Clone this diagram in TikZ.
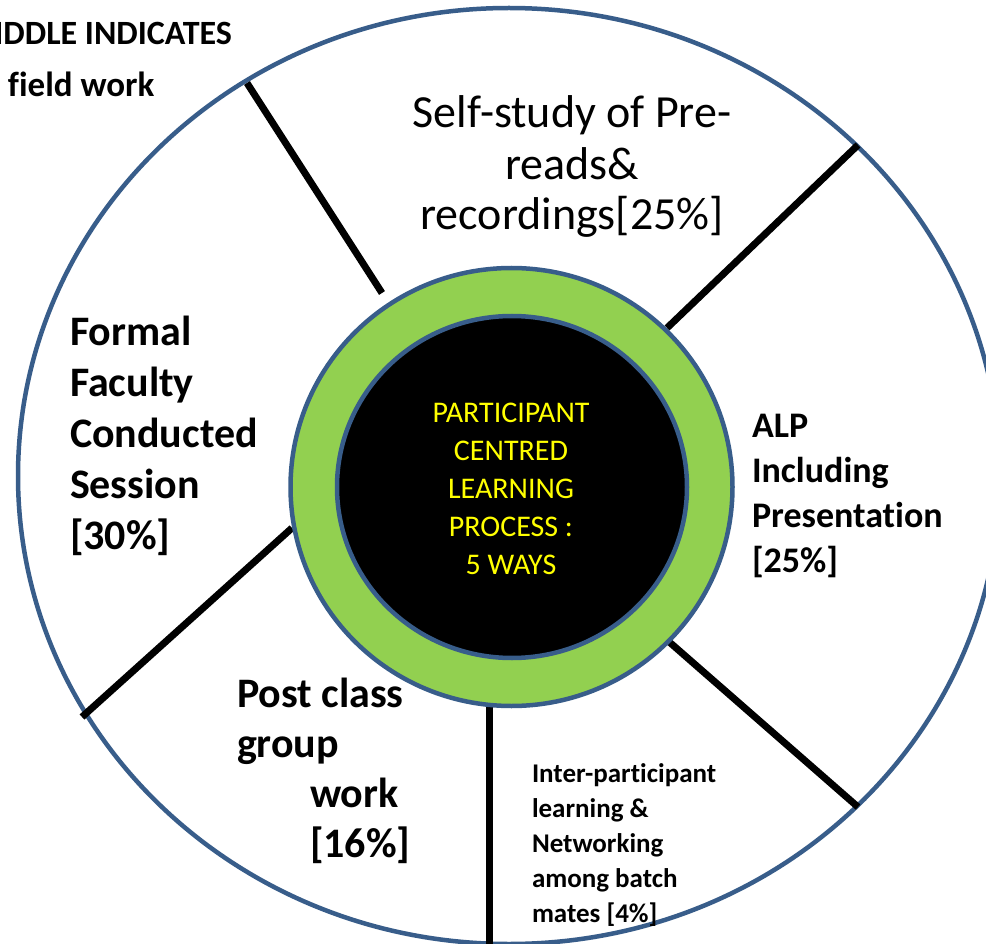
\documentclass[tikz,border=0pt]{standalone}
\usepackage{fontspec}
\setmainfont{Carlito}[Ligatures={TeX,NoCommon}]
\definecolor{rimblue}{RGB}{56,93,138}
\definecolor{hubgreen}{RGB}{146,208,80}
\definecolor{hubtext}{RGB}{255,255,0}

\begin{document}
\begin{tikzpicture}[x=1pt,y=-1pt,
  spoke/.style={line width=7pt},
  rim/.style={draw=rimblue,line width=4.5pt},
  every node/.style={inner sep=0pt,outer sep=0pt}]
\useasboundingbox (0,0) rectangle (986,944);
\clip (0,0) rectangle (986,944);
\fill[white] (0,0) rectangle (986,944);
% outer wheel and its spokes
\draw[rim] (509,476) ellipse [x radius=491pt, y radius=468pt];
\draw[spoke] (247,83) -- (382,293);
\draw[spoke] (858,145) -- (667,328);
\draw[spoke] (82,717) -- (292,528);
\draw[spoke] (489,703) -- (489,950);
\draw[spoke] (667,640) -- (858,807);
% hub
\draw[rim,fill=hubgreen] (511.5,487) ellipse [x radius=221pt, y radius=219pt];
\draw[rim,fill=black] (512,487) ellipse [x radius=175pt, y radius=171pt];
% multi-line nodes: base is the last line
\node[anchor=base,align=center,text=hubtext,font=\fontsize{30}{38}\selectfont] (hub) at (511,574)
  {PARTICIPANT\\CENTRED\\LEARNING\\PROCESS :\\5 WAYS};
% the five ways
\node[anchor=base,align=center,font=\fontsize{46}{51}\selectfont] (selfstudy) at (572,230)
  {Self-study of Pre-\\reads\&\\recordings[25\%]};
\node[anchor=base west,align=left,font=\bfseries\fontsize{36}{45}\selectfont] (alp) at (752,572)
  {ALP\\Including\\Presentation\\[0pt][25\%]};
\node[anchor=base west,align=left,font=\bfseries\fontsize{27}{35}\selectfont] (peer) at (532,922)
  {Inter-participant\\learning \&\\Networking\\among batch\\mates [4\%]};
\node[anchor=base west,align=left,font=\bfseries\fontsize{42}{50}\selectfont] (postclass) at (237,857)
  {Post class\\group\\\hspace*{73pt}work\\[0pt]\hspace*{73pt}[16\%]};
\node[anchor=base west,align=left,font=\bfseries\fontsize{42}{51}\selectfont] (formal) at (70,549)
  {Formal\\Faculty\\Conducted\\Session\\[0pt][30\%]};
% note in the corner
\node[anchor=base east,font=\bfseries\fontsize{34}{40}\selectfont] (note) at (232,45) {MIDDLE INDICATES};
\node[anchor=base west,font=\bfseries\fontsize{35}{40}\selectfont] (notework) at (8,97) {field work};
\end{tikzpicture}
\end{document}
